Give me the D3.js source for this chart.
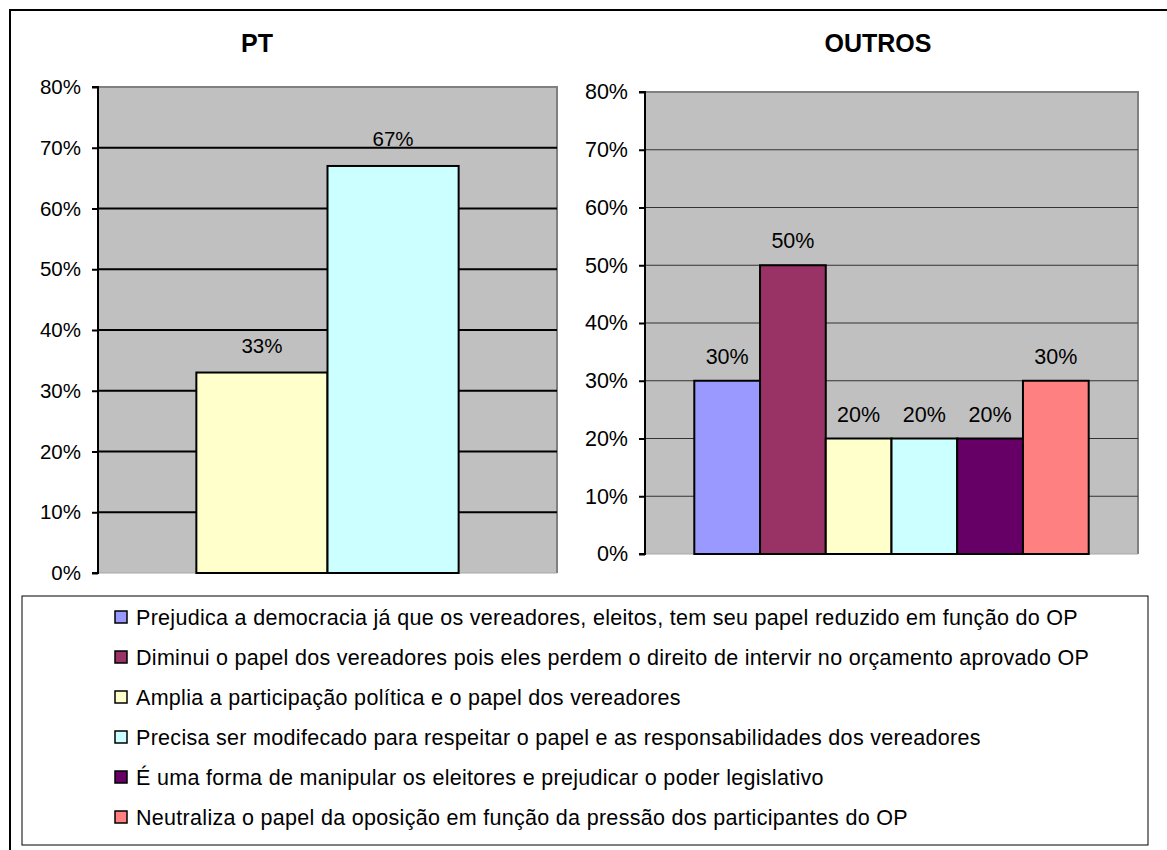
<!DOCTYPE html>
<html>
<head>
<meta charset="utf-8">
<script src="https://cdn.jsdelivr.net/npm/d3@7"></script>
<style>
  body { margin: 0; background: #fff; }
  svg { display: block; font-family: Arial, "Liberation Sans", sans-serif; }
</style>
</head>
<body>
<div id="chart"></div>
<script>
// legend labels, one per series
const seriesNames = [
  'Prejudica a democracia já que os vereadores, eleitos, tem seu papel reduzido em função do OP',
  'Diminui o papel dos vereadores pois eles perdem o direito de intervir no orçamento aprovado OP',
  'Amplia a participação política e o papel dos vereadores',
  'Precisa ser modifecado para respeitar o papel e as responsabilidades dos vereadores',
  'É uma forma de manipular os eleitores e prejudicar o poder legislativo',
  'Neutraliza o papel da oposição em função da pressão dos participantes do OP',
];
const seriesColors = ['#9999FF', '#993366', '#FFFFCC', '#CCFFFF', '#660066', '#FF8080'];

// PT only answered two of the options
const ptSeries = [2, 3];
const ptValues = [0.33, 0.67];

const outrosSeries = [0, 1, 2, 3, 4, 5];
const outrosValues = [0.30, 0.50, 0.20, 0.20, 0.20, 0.30];

const tickValues = [0, 0.1, 0.2, 0.3, 0.4, 0.5, 0.6, 0.7, 0.8];

const W = 1167, H = 850;
const svg = d3.select('#chart').append('svg')
  .attr('width', W)
  .attr('height', H);

// outer frame
svg.append('rect')
  .attr('x', 10).attr('y', 10)
  .attr('width', W + 20).attr('height', H + 20)
  .attr('fill', '#fff')
  .attr('stroke', '#000')
  .attr('stroke-width', 2);

function drawPanel({ title, titleX, box, idx, values, gridWidth, fontSize, labelGap }) {
  const g = svg.append('g');

  const x = d3.scaleBand()
    .domain(idx)
    .range([box.left, box.right])
    .paddingInner(0)
    .paddingOuter(0.75);

  const y = d3.scaleLinear()
    .domain([0, 0.8])
    .range([box.bottom, box.top]);

  g.append('text')
    .attr('x', titleX)
    .attr('y', 52)
    .attr('text-anchor', 'middle')
    .attr('font-weight', 'bold')
    .attr('font-size', 25)
    .text(title);

  // plot background
  g.append('rect')
    .attr('x', box.left).attr('y', box.top)
    .attr('width', box.right - box.left)
    .attr('height', box.bottom - box.top)
    .attr('fill', '#C0C0C0');

  g.append('path')
    .attr('d', `M${box.left},${box.top}H${box.right}V${box.bottom}`)
    .attr('fill', 'none')
    .attr('stroke', '#808080')
    .attr('stroke-width', 2);

  g.append('line')
    .attr('x1', box.left).attr('x2', box.right)
    .attr('y1', box.bottom).attr('y2', box.bottom)
    .attr('stroke', '#a8a8a8');

  g.selectAll('.grid')
    .data(tickValues.filter(d => d > 0 && d < 0.8))
    .enter().append('line')
    .attr('class', 'grid')
    .attr('x1', box.left).attr('x2', box.right)
    .attr('y1', d => y(d)).attr('y2', d => y(d))
    .attr('stroke', gridWidth > 1 ? '#000' : '#333')
    .attr('stroke-width', gridWidth);

  const axis = d3.axisLeft(y)
    .tickValues(tickValues)
    .tickFormat(d3.format('.0%'))
    .tickSize(6)
    .tickPadding(11);

  const ax = g.append('g')
    .attr('transform', `translate(${box.left},0)`)
    .call(axis);
  ax.select('.domain').attr('stroke', '#000').attr('stroke-width', 2)
    .attr('d', `M-6,${box.top}H0V${box.bottom}H-6`);
  ax.selectAll('.tick line').attr('stroke', '#000').attr('stroke-width', 2);
  ax.selectAll('.tick text')
    .attr('font-size', fontSize)
    .attr('font-family', 'Arial, "Liberation Sans", sans-serif')
    .attr('fill', '#000');

  g.selectAll('.bar')
    .data(idx.map((s, i) => ({ s, v: values[i] })))
    .enter().append('rect')
    .attr('class', 'bar')
    .attr('x', d => x(d.s))
    .attr('y', d => y(d.v))
    .attr('width', x.bandwidth())
    .attr('height', d => y(0) - y(d.v))
    .attr('fill', d => seriesColors[d.s])
    .attr('stroke', '#000')
    .attr('stroke-width', 2);

  g.selectAll('.lbl')
    .data(idx.map((s, i) => ({ s, v: values[i] })))
    .enter().append('text')
    .attr('class', 'lbl')
    .attr('x', d => x(d.s) + x.bandwidth() / 2)
    .attr('y', d => y(d.v) - labelGap)
    .attr('text-anchor', 'middle')
    .attr('font-size', fontSize)
    .text(d => d3.format('.0%')(d.v));
}

drawPanel({
  title: 'PT',
  titleX: 257,
  box: { left: 98, right: 557, top: 87, bottom: 573 },
  idx: ptSeries,
  values: ptValues,
  gridWidth: 2,
  fontSize: 20.5,
  labelGap: 20,
});

drawPanel({
  title: 'OUTROS',
  titleX: 878,
  box: { left: 645, right: 1138, top: 92, bottom: 554 },
  idx: outrosSeries,
  values: outrosValues,
  gridWidth: 1,
  fontSize: 21.5,
  labelGap: 17,
});

// legend
const legend = svg.append('g');
legend.append('rect')
  .attr('x', 22).attr('y', 596)
  .attr('width', 1126).attr('height', 249)
  .attr('fill', '#fff')
  .attr('stroke', '#000')
  .attr('stroke-width', 1);

const rowY = d3.scalePoint()
  .domain(d3.range(seriesNames.length))
  .range([617, 817]);

const item = legend.selectAll('.item')
  .data(seriesNames)
  .enter().append('g')
  .attr('class', 'item')
  .attr('transform', (d, i) => `translate(115,${rowY(i)})`);

item.append('rect')
  .attr('x', 0).attr('y', -6)
  .attr('width', 12).attr('height', 12)
  .attr('fill', (d, i) => seriesColors[i])
  .attr('stroke', '#000')
  .attr('stroke-width', 1.5);

item.append('text')
  .attr('x', 21)
  .attr('dy', '0.36em')
  .attr('font-size', 21.5)
  .attr('letter-spacing', 0.3)
  .text(d => d);
</script>
</body>
</html>
